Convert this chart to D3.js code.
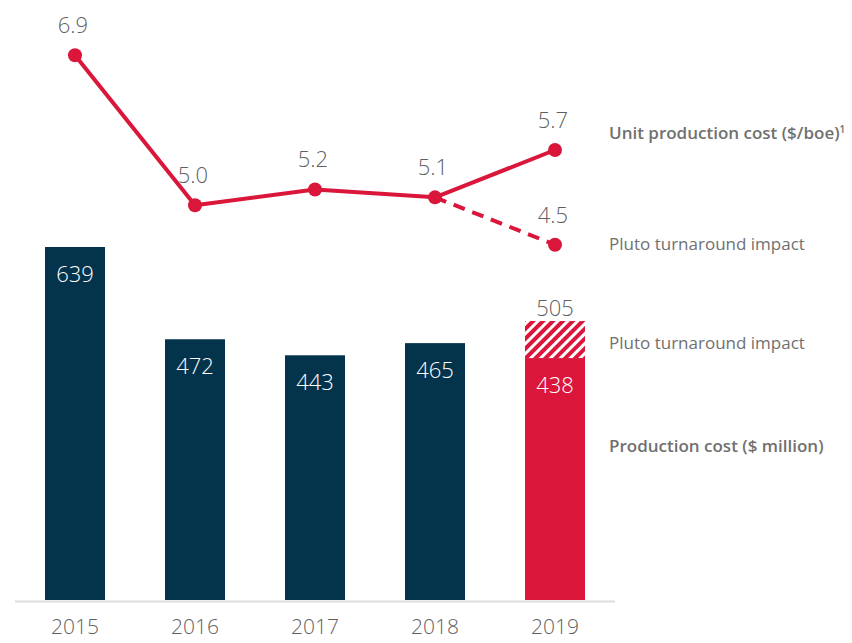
<!DOCTYPE html>
<html>
<head>
<meta charset="utf-8">
<script src="https://cdn.jsdelivr.net/npm/d3@7"></script>
<style>
  body { margin: 0; background: #fff; }
  svg text { font-family: "Open Sans", Lato, sans-serif; font-weight: 300; }
</style>
</head>
<body>
<svg id="chart" width="852" height="643"></svg>
<script>
const years = ['2015', '2016', '2017', '2018', '2019'];
const productionCost = [639, 472, 443, 465, 438];
const plutoCostTotal = 505; // 2019 incl. Pluto turnaround
const unitCost = [6.9, 5.0, 5.2, 5.1, 5.7];
const unitCostExPluto = 4.5; // 2019 excl. Pluto turnaround
const legendLabels = [
    { text: 'Unit production cost ($/boe)', sup: '1', bold: true, y: 133 },
    { text: 'Pluto turnaround impact', bold: false, y: 244 },
    { text: 'Pluto turnaround impact', bold: false, y: 343 },
    { text: 'Production cost ($ million)', bold: true, y: 446 }
];

const navy = '#04334c',
    red = '#da173b',
    grey = '#5f5f5f';

const svg = d3.select('#chart');

const x = d3.scaleBand()
    .domain(years)
    .range([15, 615])
    .paddingInner(0.5)
    .paddingOuter(0.25);

const yBar = d3.scaleLinear()
    .domain([0, 639])
    .range([600, 247]);

const yLine = d3.scaleLinear()
    .domain([0, 7.6])
    .range([600, 0]);

const cx = d => x(d) + x.bandwidth() / 2;

// hatch pattern for Pluto turnaround
const defs = svg.append('defs');
const pat = defs.append('pattern')
    .attr('id', 'hatch')
    .attr('patternUnits', 'userSpaceOnUse')
    .attr('width', 7).attr('height', 7)
    .attr('patternTransform', 'rotate(45)');
pat.append('rect').attr('width', 7).attr('height', 7).attr('fill', '#fff');
pat.append('rect').attr('width', 4).attr('height', 7).attr('fill', red);

// bars
svg.selectAll('rect.bar')
    .data(years)
    .join('rect')
    .attr('class', 'bar')
    .attr('x', d => x(d))
    .attr('width', x.bandwidth())
    .attr('y', (d, i) => yBar(productionCost[i]))
    .attr('height', (d, i) => yBar(0) - yBar(productionCost[i]))
    .attr('fill', (d, i) => i === years.length - 1 ? red : navy);

const last = years[years.length - 1];
svg.append('rect')
    .attr('x', x(last))
    .attr('width', x.bandwidth())
    .attr('y', yBar(plutoCostTotal))
    .attr('height', yBar(productionCost[4]) - yBar(plutoCostTotal))
    .attr('fill', 'url(#hatch)');

svg.selectAll('text.barval')
    .data(years)
    .join('text')
    .attr('class', 'barval')
    .attr('x', cx)
    .attr('y', (d, i) => yBar(productionCost[i]) + 35)
    .attr('text-anchor', 'middle')
    .attr('fill', '#fff')
    .style('font-size', '22px')
    .text((d, i) => productionCost[i]);

svg.append('text')
    .attr('x', cx(last))
    .attr('y', yBar(plutoCostTotal) - 5)
    .attr('text-anchor', 'middle')
    .attr('fill', grey)
    .style('font-size', '22px')
    .text(plutoCostTotal);

// axis baseline
svg.append('line')
    .attr('x1', 15).attr('x2', 615)
    .attr('y1', yBar(0) + 1.5).attr('y2', yBar(0) + 1.5)
    .attr('stroke', '#ddd')
    .attr('stroke-width', 2);

const xAxis = svg.append('g')
    .attr('transform', `translate(0,${yBar(0)})`)
    .call(d3.axisBottom(x).tickSize(0).tickPadding(19));
xAxis.select('.domain').remove();
xAxis.selectAll('text')
    .attr('fill', grey)
    .style('font-size', '21px')
    .style('font-family', '"Open Sans", Lato, sans-serif')
    .style('font-weight', 300);

// line
const line = d3.line()
    .x((d, i) => cx(years[i]))
    .y(d => yLine(d));

svg.append('path')
    .datum(unitCost)
    .attr('d', line)
    .attr('fill', 'none')
    .attr('stroke', red)
    .attr('stroke-width', 4)
    .attr('stroke-linejoin', 'round');

svg.append('line')
    .attr('x1', cx(years[3])).attr('y1', yLine(unitCost[3]))
    .attr('x2', cx(last)).attr('y2', yLine(unitCostExPluto))
    .attr('stroke', red)
    .attr('stroke-width', 4)
    .attr('stroke-dasharray', '12,8');

const pts = unitCost.map((v, i) => ({ year: years[i], v }))
    .concat([{ year: last, v: unitCostExPluto }]);

svg.selectAll('circle.pt')
    .data(pts)
    .join('circle')
    .attr('class', 'pt')
    .attr('cx', d => cx(d.year))
    .attr('cy', d => yLine(d.v))
    .attr('r', 7)
    .attr('fill', red);

svg.selectAll('text.ptval')
    .data(pts)
    .join('text')
    .attr('class', 'ptval')
    .attr('x', d => cx(d.year) - 2)
    .attr('y', d => yLine(d.v) - 22)
    .attr('text-anchor', 'middle')
    .attr('fill', grey)
    .style('font-size', '22px')
    .text(d => d3.format('.1f')(d.v));

// right-hand labels
const leg = svg.selectAll('text.leg')
    .data(legendLabels)
    .join('text')
    .attr('class', 'leg')
    .attr('x', 609)
    .attr('y', d => d.y + 6)
    .attr('fill', '#707070')
    .style('font-size', '17px')
    .style('font-weight', d => d.bold ? 600 : 400)
    .text(d => d.text);

leg.filter(d => d.sup)
    .append('tspan')
    .attr('dy', -6)
    .style('font-size', '10px')
    .text(d => d.sup);
</script>
</body>
</html>
